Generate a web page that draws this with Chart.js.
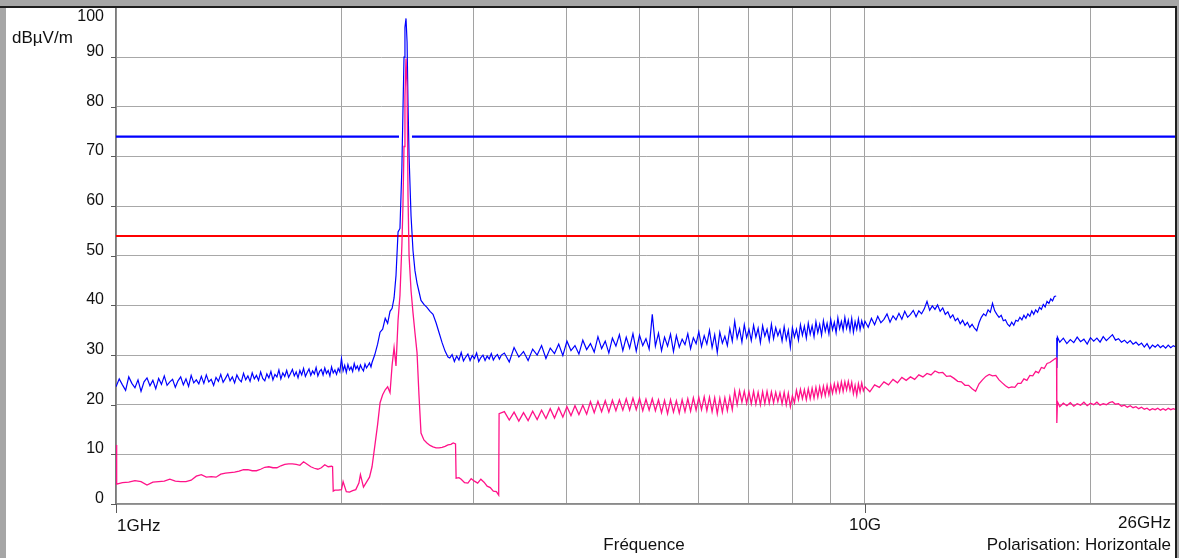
<!DOCTYPE html>
<html>
<head>
<meta charset="utf-8">
<title>Spectre 1 - 26 GHz</title>
<script src="https://cdn.jsdelivr.net/npm/chart.js@4.4.0/dist/chart.umd.min.js"></script>
<style>
  html, body { margin: 0; padding: 0; background: #a6a6a6; }
  canvas { display: block; }
</style>
</head>
<body>
<canvas id="spectrum" width="1179" height="558"></canvas>
<script>
// peak detector sweep: frequency (GHz) / level (dBµV/m)
const peakFreq = [
  1.00, 1.01, 1.02, 1.03, 1.04, 1.05, 1.06, 1.07, 1.08, 1.09,
  1.10, 1.11, 1.12, 1.13, 1.14, 1.15, 1.16, 1.17, 1.18, 1.19,
  1.20, 1.21, 1.22, 1.23, 1.24, 1.25, 1.26, 1.27, 1.28, 1.29,
  1.30, 1.31, 1.32, 1.33, 1.34, 1.35, 1.36, 1.37, 1.38, 1.39,
  1.40, 1.41, 1.42, 1.43, 1.44, 1.45, 1.46, 1.47, 1.48, 1.49,
  1.50, 1.51, 1.52, 1.53, 1.54, 1.55, 1.56, 1.57, 1.58, 1.59,
  1.60, 1.61, 1.62, 1.63, 1.64, 1.65, 1.66, 1.67, 1.68, 1.69,
  1.70, 1.71, 1.72, 1.73, 1.74, 1.75, 1.76, 1.77, 1.78, 1.79,
  1.80, 1.81, 1.82, 1.83, 1.84, 1.85, 1.86, 1.87, 1.88, 1.89,
  1.90, 1.91, 1.92, 1.93, 1.94, 1.95, 1.96, 1.97, 1.98, 1.99,
  2.00, 2.01, 2.02, 2.03, 2.04, 2.05, 2.06, 2.07, 2.08, 2.09,
  2.10, 2.11, 2.12, 2.13, 2.14, 2.15, 2.16, 2.17, 2.18, 2.19,
  2.197, 2.215, 2.235, 2.252, 2.270, 2.288, 2.305, 2.322, 2.337, 2.351,
  2.365, 2.380, 2.394, 2.408, 2.416, 2.424, 2.431, 2.439, 2.447, 2.454,
  2.462, 2.477, 2.492, 2.507, 2.523, 2.538, 2.554, 2.577, 2.601, 2.626,
  2.650, 2.675, 2.700, 2.725, 2.750, 2.775,
  2.79, 2.81, 2.83, 2.85, 2.87, 2.89, 2.91, 2.93, 2.95, 2.97,
  2.99, 3.01, 3.03, 3.05, 3.07, 3.09, 3.11, 3.13, 3.15, 3.17,
  3.19, 3.21, 3.23, 3.25, 3.27,
  3.30, 3.35, 3.40, 3.45, 3.50, 3.55, 3.60, 3.65, 3.70, 3.75,
  3.80, 3.85, 3.90, 3.95, 4.00, 4.05, 4.10, 4.15, 4.20, 4.25,
  4.30, 4.35, 4.40, 4.45, 4.50, 4.55, 4.60, 4.65, 4.70, 4.75,
  4.80, 4.85, 4.90, 4.95, 5.00, 5.05, 5.10, 5.15, 5.20, 5.25,
  5.30, 5.35, 5.40, 5.45, 5.50, 5.55, 5.60, 5.65, 5.70, 5.75,
  5.80, 5.85, 5.90, 5.95, 6.00, 6.05, 6.10, 6.15, 6.20, 6.25,
  6.30, 6.35, 6.40, 6.45, 6.50, 6.55, 6.60, 6.65, 6.70, 6.75,
  6.80, 6.85, 6.90, 6.95, 7.00, 7.05, 7.10, 7.15, 7.20, 7.25,
  7.30, 7.35, 7.40, 7.45, 7.50, 7.55, 7.60, 7.65, 7.70, 7.75,
  7.80, 7.85, 7.90, 7.95, 8.00, 8.05, 8.10, 8.15, 8.20, 8.25,
  8.30, 8.35, 8.40, 8.45, 8.50, 8.55, 8.60, 8.65, 8.70, 8.75,
  8.80, 8.85, 8.90, 8.95, 9.00, 9.05, 9.10, 9.15, 9.20, 9.25,
  9.30, 9.35, 9.40, 9.45, 9.50, 9.55, 9.60, 9.65, 9.70, 9.75,
  9.80, 9.85, 9.90, 9.95, 10.00,
  10.1, 10.2, 10.3, 10.4, 10.5, 10.6, 10.7, 10.8, 10.9, 11.0,
  11.1, 11.2, 11.3, 11.4, 11.5, 11.6, 11.7, 11.8, 11.9, 12.0,
  12.1, 12.2, 12.3, 12.4, 12.5, 12.6, 12.7, 12.8, 12.9, 13.0,
  13.1, 13.2, 13.3, 13.4, 13.5, 13.6, 13.7, 13.8, 13.9, 14.0,
  14.1, 14.2, 14.3, 14.4, 14.5, 14.6, 14.7, 14.8, 14.9, 15.0,
  15.1, 15.2, 15.3, 15.4, 15.5, 15.6, 15.7, 15.8, 15.9, 16.0,
  16.1, 16.2, 16.3, 16.4, 16.5, 16.6, 16.7, 16.8, 16.9, 17.0,
  17.1, 17.2, 17.3, 17.4, 17.5, 17.6, 17.7, 17.8, 17.9, 18.0,
  18.02, 18.03, 18.04, 18.07,
  18.2, 18.4, 18.6, 18.8, 19.0, 19.2, 19.4, 19.6, 19.8, 20.0,
  20.2, 20.4, 20.6, 20.8, 21.0, 21.2, 21.4, 21.6, 21.8, 22.0,
  22.2, 22.4, 22.6, 22.8, 23.0, 23.2, 23.4, 23.6, 23.8, 24.0,
  24.2, 24.4, 24.6, 24.8, 25.0, 25.2, 25.4, 25.6, 25.8, 26.0
];
const peakLevel = [
  23.6, 25.2, 24.0, 22.9, 25.6, 24.3, 23.4, 25.0, 22.7, 24.6,
  25.4, 23.8, 24.9, 23.2, 25.3, 24.1, 25.8, 23.9, 24.6, 25.1,
  23.5, 24.8, 25.6, 24.0, 25.2, 23.7, 25.9, 24.4, 25.0, 24.2,
  25.7, 24.3, 26.0, 24.6, 25.1, 23.9, 25.5, 24.7, 26.1, 24.5,
  25.3, 26.2, 24.8, 25.6, 24.4, 26.0, 25.1, 24.6, 26.3, 25.0,
  25.8, 24.7, 26.4, 25.2, 25.9, 24.9, 26.6, 25.3, 24.8, 26.2,
  25.4, 26.7, 25.0, 26.1, 25.6, 27.0, 25.2, 26.4, 25.7, 26.9,
  25.5, 26.3, 27.1, 25.8, 26.6, 25.4, 26.9, 26.0, 27.3, 25.7,
  26.5, 27.2, 25.9, 26.8, 26.2, 27.5, 25.8, 26.7, 27.1, 26.0,
  27.4, 26.3, 26.9, 25.8, 27.6, 26.4, 27.0, 26.1, 27.3, 26.6,
  29.3, 26.8, 27.9, 26.5, 28.1, 27.0, 27.6, 26.7, 28.3, 27.2,
  27.8, 26.9, 28.0, 27.3, 26.8, 28.2, 27.4, 27.9, 28.4, 27.6,
  28.5, 30.0, 32.2, 34.6, 35.2, 37.4, 36.4, 38.8, 39.4, 41.5,
  46.0, 54.8, 55.5, 67.5, 79.0, 90.0, 96.0, 97.8, 93.0, 80.5,
  70.0, 58.0, 51.0, 47.0, 44.5, 42.8, 41.0, 40.2, 39.6, 38.8,
  38.2, 36.5, 34.5, 32.5, 30.8, 29.6,
  29.4, 30.1, 28.7, 29.8, 29.0, 30.5, 28.8, 29.6, 30.2, 28.9,
  29.9, 29.3, 30.4, 28.7, 29.5, 30.0, 28.9, 29.8, 29.2, 30.3,
  29.0, 29.7, 30.1, 29.2, 30.0,
  30.4, 28.6, 31.5, 29.6, 30.7, 28.9, 31.2, 30.0, 31.9, 29.3,
  31.4, 30.3, 32.2, 29.9, 32.8, 30.9, 31.9, 30.2, 33.0, 31.1,
  32.3, 30.6, 33.7, 31.3, 32.8, 30.4, 33.4, 31.8, 34.1, 30.9,
  33.6, 31.4, 34.3, 30.8, 34.0, 31.9, 33.3, 31.2, 38.2, 31.8,
  34.4, 30.9, 33.6, 31.8, 34.2, 30.7, 33.9, 31.6, 33.2, 32.1,
  34.3, 31.3, 33.5, 32.3, 34.7, 31.7, 33.9, 32.2, 35.0, 31.5,
  34.1, 30.5, 34.6, 32.4, 33.8, 31.9, 35.3, 32.8, 36.8, 33.4,
  35.3, 32.6, 36.1, 33.5, 35.2, 32.9, 36.0, 33.6, 35.4, 32.5,
  35.9, 33.8, 35.2, 32.9, 36.2, 33.3, 35.5, 33.9, 35.1, 32.8,
  35.7, 33.1, 35.0, 31.6, 35.5, 33.6, 35.2, 33.0, 36.1, 34.0,
  35.8, 33.4, 36.4, 34.2, 35.9, 33.7, 36.7, 34.5, 36.2, 34.0,
  36.9, 34.8, 36.4, 34.3, 37.2, 35.1, 36.6, 34.5, 37.5, 35.3,
  36.8, 35.0, 37.6, 35.4, 37.0, 34.9, 37.4, 34.6, 36.7, 35.2,
  37.3, 35.1, 36.9, 35.6, 36.8,
  35.6, 37.4, 36.1, 37.8, 36.5, 37.2, 38.3, 36.6, 37.9, 37.1,
  38.4, 37.2, 38.8, 37.6, 38.2, 39.0, 37.7, 38.9, 38.3, 39.3,
  40.8, 39.0, 39.9, 39.2, 40.1, 38.8, 39.5, 38.2, 38.7, 37.5,
  38.1, 36.9, 37.4, 36.3, 37.0, 36.0, 36.6, 35.6, 36.2, 35.4,
  34.9, 36.5, 37.6, 38.3, 37.9, 39.1, 38.6, 40.4, 38.9, 38.2,
  37.6, 38.0, 36.9, 37.1, 36.2, 35.8, 36.6, 36.0, 37.0, 36.8,
  37.6, 37.1, 38.0, 37.4, 38.3, 37.8, 38.9, 38.2, 39.1, 38.6,
  39.6, 39.2, 40.2, 39.7, 40.8, 40.4, 41.3, 40.9, 41.8, 41.9,
  null, 33.5, 27.4, 33.6,
  32.6, 33.4, 32.3, 33.1, 32.5, 33.6, 32.7, 33.2, 32.2, 33.5,
  32.8, 33.4, 32.6, 33.7, 32.9, 33.5, 34.1, 33.0, 33.3, 32.6,
  33.0, 32.4, 32.9, 32.2, 32.6, 32.0, 32.4, 31.6, 32.3, 31.3,
  32.0, 31.6, 32.1, 31.5, 31.9, 31.4, 32.0, 31.5, 31.9, 31.6
];

// average detector sweep: frequency (GHz) / level (dBµV/m)
const avgFreq = [
  1.000, 1.002, 1.02, 1.04, 1.06, 1.08, 1.10, 1.12, 1.14, 1.16,
  1.18, 1.20, 1.22, 1.24, 1.26, 1.28, 1.30, 1.32, 1.34, 1.36,
  1.38, 1.40, 1.42, 1.44, 1.46, 1.48, 1.50, 1.52, 1.54, 1.56,
  1.58, 1.60, 1.62, 1.64, 1.66, 1.68, 1.70, 1.72, 1.74, 1.76,
  1.78, 1.80, 1.82, 1.84, 1.86, 1.88, 1.90, 1.92, 1.94, 1.946,
  1.95, 1.96, 1.98, 2.00,
  2.01, 2.03, 2.05, 2.07, 2.09, 2.11, 2.12, 2.14, 2.16, 2.18,
  2.197, 2.215, 2.235, 2.252, 2.270, 2.288, 2.305, 2.322, 2.337, 2.351,
  2.365, 2.380, 2.394, 2.408, 2.416, 2.424, 2.431, 2.439, 2.447, 2.454,
  2.462, 2.477, 2.492, 2.507, 2.523, 2.538, 2.554, 2.577, 2.601, 2.626,
  2.650, 2.675, 2.700, 2.725, 2.750, 2.775,
  2.80, 2.82, 2.84, 2.845, 2.87, 2.89, 2.92, 2.95, 2.98, 3.01,
  3.04, 3.07, 3.10, 3.13, 3.16, 3.19, 3.22, 3.243, 3.247,
  3.30, 3.35, 3.40, 3.45, 3.50, 3.55, 3.60, 3.65, 3.70, 3.75,
  3.80, 3.85, 3.90, 3.95, 4.00, 4.05, 4.10, 4.15, 4.20, 4.25,
  4.30, 4.35, 4.40, 4.45, 4.50, 4.55, 4.60, 4.65, 4.70, 4.75,
  4.80, 4.85, 4.90, 4.95, 5.00, 5.05, 5.10, 5.15, 5.20, 5.25,
  5.30, 5.35, 5.40, 5.45, 5.50, 5.55, 5.60, 5.65, 5.70, 5.75,
  5.80, 5.85, 5.90, 5.95, 6.00, 6.05, 6.10, 6.15, 6.20, 6.25,
  6.30, 6.35, 6.40, 6.45, 6.50, 6.55, 6.60, 6.65, 6.70, 6.75,
  6.80, 6.85, 6.90, 6.95, 7.00, 7.05, 7.10, 7.15, 7.20, 7.25,
  7.30, 7.35, 7.40, 7.45, 7.50, 7.55, 7.60, 7.65, 7.70, 7.75,
  7.80, 7.85, 7.90, 7.95, 8.00, 8.05, 8.10, 8.15, 8.20, 8.25,
  8.30, 8.35, 8.40, 8.45, 8.50, 8.55, 8.60, 8.65, 8.70, 8.75,
  8.80, 8.85, 8.90, 8.95, 9.00, 9.05, 9.10, 9.15, 9.20, 9.25,
  9.30, 9.35, 9.40, 9.45, 9.50, 9.55, 9.60, 9.65, 9.70, 9.75,
  9.80, 9.85, 9.90, 9.95, 10.00,
  10.15, 10.30, 10.45, 10.60, 10.75, 10.90, 11.05, 11.20, 11.35, 11.50,
  11.65, 11.80, 11.95, 12.10, 12.25, 12.40, 12.55, 12.70, 12.85, 13.00,
  13.15, 13.30, 13.45, 13.60, 13.75, 13.90, 14.05, 14.20, 14.35, 14.50,
  14.65, 14.80, 14.95, 15.10, 15.25, 15.40, 15.55, 15.70, 15.85, 16.00,
  16.15, 16.30, 16.45, 16.60, 16.75, 16.90, 17.05, 17.20, 17.35, 17.50,
  17.65, 17.80, 17.95,
  18.02, 18.03, 18.04, 18.07,
  18.2, 18.4, 18.6, 18.8, 19.0, 19.2, 19.4, 19.6, 19.8, 20.0,
  20.2, 20.4, 20.6, 20.8, 21.0, 21.2, 21.4, 21.6, 21.8, 22.0,
  22.2, 22.4, 22.6, 22.8, 23.0, 23.2, 23.4, 23.6, 23.8, 24.0,
  24.2, 24.4, 24.6, 24.8, 25.0, 25.2, 25.4, 25.6, 25.8, 26.0
];
const avgLevel = [
  11.9, 4.0, 4.3, 4.4, 4.7, 4.5, 3.8, 4.4, 4.5, 4.6,
  5.0, 4.6, 4.5, 4.5, 4.8, 5.6, 5.9, 5.4, 5.5, 5.4,
  6.0, 6.2, 6.3, 6.4, 6.6, 6.9, 6.9, 6.7, 6.7, 7.0,
  7.4, 7.5, 7.3, 7.3, 7.7, 8.0, 8.1, 8.1, 8.0, 7.8,
  8.5, 8.0, 7.5, 7.2, 7.0, 7.3, 7.9, 7.5, 7.6, 7.5,
  2.6, 2.8, 2.8, 2.9,
  4.5, 2.5, 2.4, 2.7, 2.9, 4.2, 5.9, 3.4, 4.4, 5.4,
  7.5, 11.5, 16.0, 20.4, 22.0, 23.0, 23.6, 22.4, 28.0, 31.5,
  27.8, 37.0, 42.0, 52.0, 60.0, 72.0, 82.0, 89.7, 84.0, 62.0,
  50.0, 43.0, 38.5, 34.5, 30.5, 22.0, 14.3, 12.9, 12.3, 11.8,
  11.5, 11.3, 11.3, 11.4, 11.6, 11.9,
  12.0, 12.3, 12.1, 5.2, 5.3, 5.0, 4.3, 4.2, 5.1, 4.6,
  4.2, 5.0, 4.4, 3.6, 3.3, 2.6, 2.5, 1.8, 18.2,
  18.6, 16.9, 18.5, 16.7, 18.4, 16.8, 18.7, 17.0, 18.9, 17.2,
  19.2, 17.3, 19.4, 17.5, 19.6, 17.8, 19.8, 18.0, 19.9, 18.1,
  20.6, 18.4, 20.7, 18.6, 20.8, 18.5, 20.9, 18.8, 21.0, 18.9,
  21.2, 18.9, 21.3, 19.0, 21.3, 18.8, 21.1, 18.9, 21.2, 18.8,
  21.0, 18.4, 20.9, 18.2, 21.0, 18.5, 20.8, 18.3, 21.0, 18.6,
  21.2, 18.7, 21.4, 18.9, 21.5, 19.0, 21.6, 18.8, 21.5, 18.6,
  21.4, 18.2, 21.3, 18.5, 21.4, 18.8, 21.6, 19.0, 22.8, 20.0,
  22.8, 20.5, 22.7, 20.3, 22.6, 20.2, 22.7, 20.1, 22.5, 20.0,
  22.6, 20.2, 22.7, 20.3, 22.6, 20.4, 22.5, 20.6, 22.4, 20.2,
  22.5, 20.0, 22.3, 19.6, 21.8, 20.4, 22.9, 21.0, 23.1, 21.2,
  23.0, 21.0, 23.2, 21.2, 23.3, 21.3, 23.5, 21.5, 23.6, 21.7,
  23.7, 21.8, 23.9, 22.0, 24.0, 22.3, 24.2, 22.5, 24.3, 22.6,
  24.6, 22.7, 24.6, 23.0, 24.7, 22.9, 24.5, 22.2, 23.9, 21.9,
  24.2, 22.6, 24.4, 22.8, 23.6,
  22.6, 24.0, 23.5, 24.6, 24.0, 25.1, 24.4, 25.5, 24.9, 25.6,
  25.1, 26.0, 25.6, 26.3, 26.0, 26.8, 26.4, 26.5, 25.7, 25.8,
  25.3, 24.7, 24.6, 23.9, 23.9, 23.2, 22.7, 24.2, 25.0, 25.7,
  26.1, 25.8, 25.9, 25.0, 24.4, 23.8, 23.4, 23.6, 23.5, 24.3,
  24.3, 25.2, 24.9, 25.9, 25.8, 26.7, 26.4, 27.5, 27.3, 28.3,
  28.5, 28.9, 29.3,
  29.4, 29.2, 16.3, 20.6,
  19.6, 20.3, 19.8, 20.4, 19.7, 20.2, 19.9, 20.5, 19.8, 20.3,
  20.0, 20.5, 19.9, 20.2, 20.0, 20.4, 20.6, 20.1, 20.2, 19.7,
  19.9, 19.5, 19.8, 19.4, 19.6, 19.2, 19.5, 19.1, 19.3, 18.9,
  19.2, 19.0, 19.3, 18.9, 19.2, 18.9, 19.3, 19.0, 19.2, 19.0
];

// limits (dBµV/m)
const peakLimit = 74;
const avgLimit = 54;
const peakLimitGap = [2.387, 2.484];

// axes
const yTicks = [0, 10, 20, 30, 40, 50, 60, 70, 80, 90, 100];
const xGrid = [1, 2, 3, 4, 5, 6, 7, 8, 9, 10, 20, 26];
const xTickValues = [1, 10];
const xTickLabels = ['1GHz', '10G'];
const xEndLabel = '26GHz';
const yUnit = 'dBµV/m';
const xTitle = 'Fréquence';
const note = 'Polarisation: Horizontale';

const FONT = '"Liberation Sans", Arial, sans-serif';

const toPoints = (freqs, levels) => freqs.map((f, i) => ({ x: f, y: levels[i] }));

const peakLimitData = [
  { x: 1, y: peakLimit },
  { x: peakLimitGap[0], y: peakLimit },
  { x: (peakLimitGap[0] + peakLimitGap[1]) / 2, y: null },
  { x: peakLimitGap[1], y: peakLimit },
  { x: 26, y: peakLimit }
];
const avgLimitData = [{ x: 1, y: avgLimit }, { x: 26, y: avgLimit }];

const framePlugin = {
  id: 'frame',
  beforeDraw(chart) {
    const ctx = chart.ctx;
    ctx.save();
    ctx.fillStyle = '#a6a6a6';
    ctx.fillRect(0, 0, chart.width, chart.height);
    ctx.fillStyle = '#ffffff';
    ctx.fillRect(6, 7, 1170, chart.height - 7);
    ctx.restore();
  },
  afterDraw(chart) {
    const { ctx } = chart;
    const x = chart.scales.x;
    const y = chart.scales.y;
    ctx.save();

    // tick marks
    ctx.strokeStyle = '#5a5a5a';
    ctx.lineWidth = 1;
    yTicks.filter(v => v < 100).forEach(v => {
      const py = Math.round(y.getPixelForValue(v)) + 0.5;
      ctx.beginPath();
      ctx.moveTo(x.left - 5, py);
      ctx.lineTo(x.left, py);
      ctx.stroke();
    });
    xTickValues.forEach(v => {
      const px = Math.round(x.getPixelForValue(v)) + 0.5;
      ctx.beginPath();
      ctx.moveTo(px, y.bottom);
      ctx.lineTo(px, y.bottom + 9);
      ctx.stroke();
    });

    // y labels
    ctx.fillStyle = '#111';
    ctx.textBaseline = 'middle';
    ctx.font = '16px ' + FONT;
    ctx.textAlign = 'right';
    yTicks.forEach(v => {
      ctx.fillText(String(v), 104, Math.max(y.getPixelForValue(v) - 5.5, 17));
    });

    ctx.font = '17px ' + FONT;
    ctx.textAlign = 'left';
    ctx.fillText(yUnit, 12, 38);

    // x labels
    ctx.textAlign = 'left';
    ctx.fillText(xTickLabels[0], x.getPixelForValue(xTickValues[0]) + 1, 526);
    ctx.textAlign = 'center';
    ctx.fillText(xTickLabels[1], x.getPixelForValue(xTickValues[1]), 525);
    ctx.textAlign = 'right';
    ctx.fillText(xEndLabel, 1171, 523);
    ctx.fillText(note, 1171, 545);
    ctx.textAlign = 'center';
    ctx.fillText(xTitle, 644, 545);

    // window edges
    ctx.fillStyle = '#1e1e1e';
    ctx.fillRect(0, 6, 1177, 2);
    ctx.fillRect(1175, 6, 2, chart.height - 6);
    ctx.restore();
  }
};

new Chart(document.getElementById('spectrum').getContext('2d'), {
  type: 'line',
  data: {
    datasets: [
      {
        label: 'Moyenne',
        data: toPoints(avgFreq, avgLevel),
        borderColor: '#ff1289',
        borderWidth: 1.3,
        pointRadius: 0,
        tension: 0
      },
      {
        label: 'Crête',
        data: toPoints(peakFreq, peakLevel),
        borderColor: '#0000ff',
        borderWidth: 1.2,
        pointRadius: 0,
        tension: 0
      },
      {
        label: 'Limite moyenne',
        data: avgLimitData,
        borderColor: '#ff0000',
        borderWidth: 2,
        pointRadius: 0
      },
      {
        label: 'Limite crête',
        data: peakLimitData,
        borderColor: '#0000ff',
        borderWidth: 2.2,
        pointRadius: 0
      }
    ]
  },
  options: {
    responsive: false,
    animation: false,
    devicePixelRatio: 1,
    spanGaps: false,
    events: [],
    layout: { padding: { left: 116, right: 3.2, top: 7.5, bottom: 54 } },
    plugins: {
      legend: { display: false },
      tooltip: { enabled: false }
    },
    scales: {
      x: {
        type: 'logarithmic',
        min: 1,
        max: 26,
        afterBuildTicks: (s) => { s.ticks = xGrid.map(v => ({ value: v })); },
        ticks: { display: false },
        grid: { color: '#a2a2a2', lineWidth: 1, drawTicks: false },
        border: { display: true, color: '#8a8a8a', width: 1.5 }
      },
      y: {
        type: 'linear',
        min: 0,
        max: 100,
        afterBuildTicks: (s) => { s.ticks = yTicks.filter(v => v < 100).map(v => ({ value: v })); },
        ticks: { display: false },
        grid: { color: '#a8a8a8', lineWidth: 1, drawTicks: false },
        border: { display: true, color: '#7a7a7a', width: 1.5 }
      }
    }
  },
  plugins: [framePlugin]
});
</script>
</body>
</html>
